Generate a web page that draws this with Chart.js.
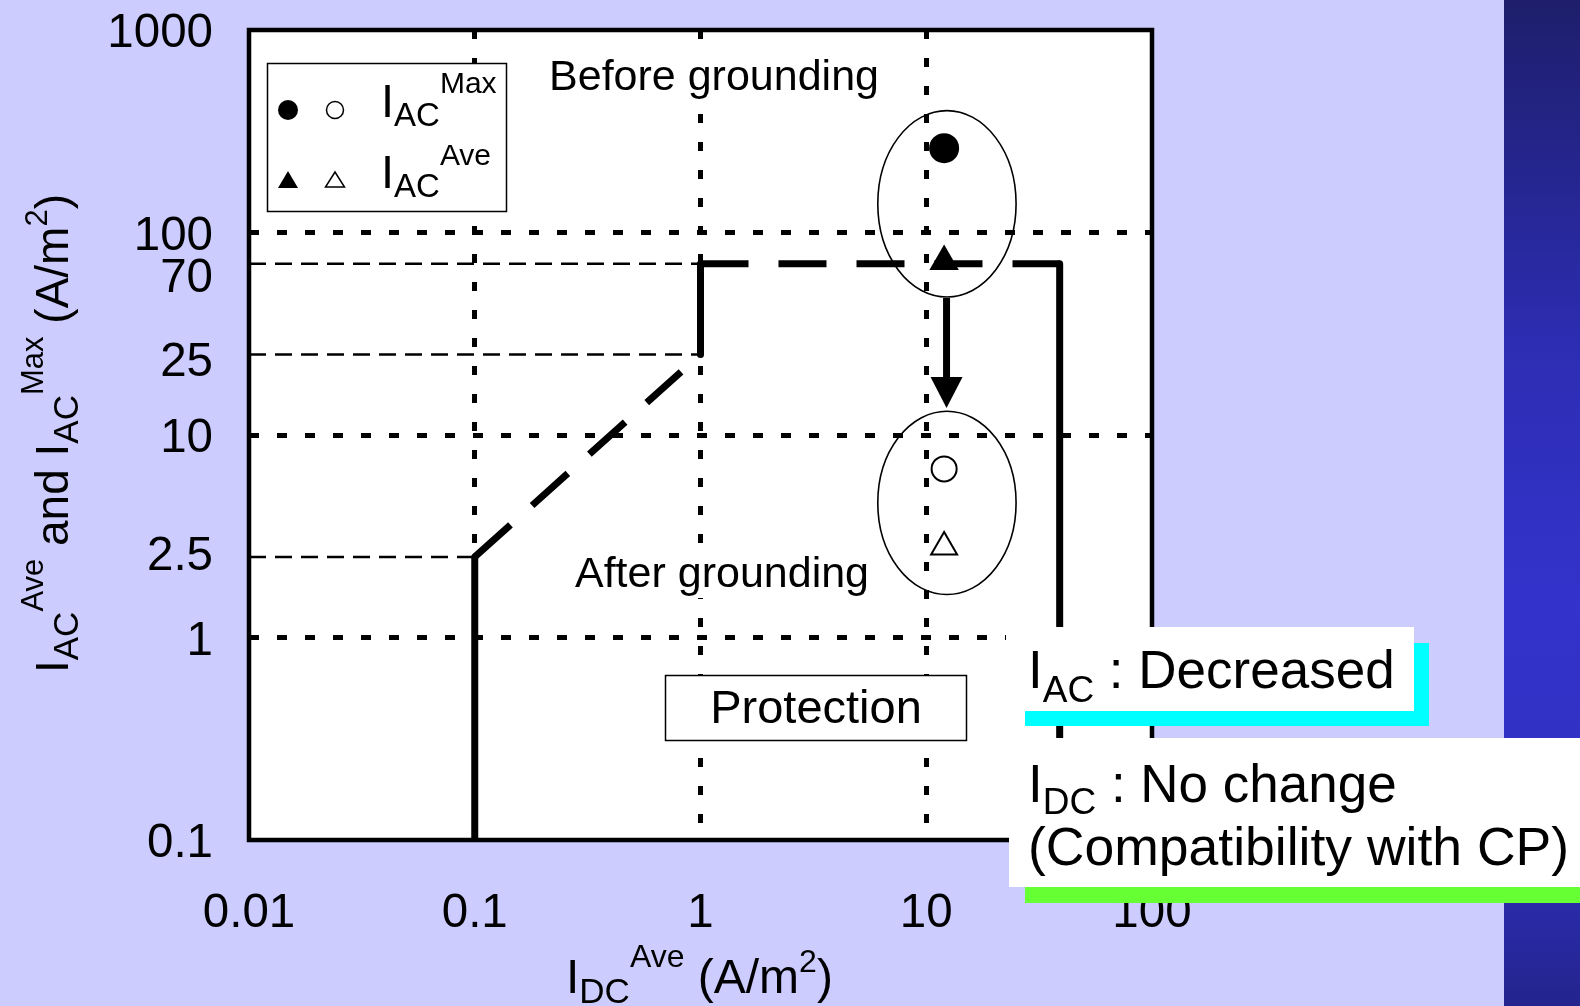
<!DOCTYPE html>
<html><head><meta charset="utf-8">
<script src="https://cdn.jsdelivr.net/npm/chart.js@4.4.0/dist/chart.umd.min.js"></script>
<style>html,body{margin:0;padding:0;background:#ccccff;overflow:hidden}canvas{display:block}</style>
</head><body>
<canvas id="c" width="1580" height="1006"></canvas>
<script>
// ---- data ----
const xTickValues = [0.01, 0.1, 1, 10, 100];
const xTickLabels = ['0.01', '0.1', '1', '10', '100'];
const yTickValues = [0.1, 1, 2.5, 10, 25, 70, 100, 1000];
const yTickLabels = ['0.1', '1', '2.5', '10', '25', '70', '100', '1000'];
const xGridValues = [0.1, 1, 10];
const yGridValues = [1, 10, 100];

const beforeMax = [{x: 12, y: 261}];
const beforeAve = [{x: 12, y: 72}];
const afterMax = [{x: 12, y: 6.8}];
const afterAve = [{x: 12, y: 2.8}];

const refLine70 = [{x: 0.01, y: 70}, {x: 1, y: 70}];
const refLine25 = [{x: 0.01, y: 25}, {x: 1, y: 25}];
const refLine2p5 = [{x: 0.01, y: 2.5}, {x: 0.1, y: 2.5}];

const limitSolidA = [{x: 0.1, y: 0.1}, {x: 0.1, y: 2.5}];
const limitDashA = [{x: 0.1, y: 2.5}, {x: 0.82, y: 20.5}];
const limitSolidB = [{x: 1, y: 25}, {x: 1, y: 70}];
const limitDashB = [{x: 1, y: 70}, {x: 39, y: 70}];
const limitSolidC = [{x: 39, y: 70}, {x: 39, y: 0.1}];

const beforeGroup = {x: [6.1, 25], y: [48, 400]};
const afterGroup = {x: [6.1, 25], y: [1.63, 13.1]};
const arrowPath = [{x: 12.3, y: 47.5}, {x: 12.3, y: 13.6}];

// ---- drawing helpers ----
const F = '"Liberation Sans", Arial, Helvetica, sans-serif';
function rich(ctx, x, y, parts, angle) {
  ctx.save();
  ctx.translate(x, y);
  if (angle) ctx.rotate(angle);
  ctx.textAlign = 'left';
  ctx.textBaseline = 'alphabetic';
  ctx.fillStyle = '#000';
  let cx = 0;
  for (const p of parts) {
    ctx.font = p.s + 'px ' + F;
    ctx.fillText(p.t, cx, p.dy || 0);
    cx += ctx.measureText(p.t).width;
  }
  ctx.restore();
}
function tri(ctx, cx, apexY, baseY, w, fill) {
  ctx.beginPath();
  ctx.moveTo(cx, apexY);
  ctx.lineTo(cx + w / 2, baseY);
  ctx.lineTo(cx - w / 2, baseY);
  ctx.closePath();
  if (fill) { ctx.fillStyle = '#000'; ctx.fill(); }
  else { ctx.fillStyle = '#fff'; ctx.fill(); ctx.lineWidth = 1.5; ctx.strokeStyle = '#000'; ctx.stroke(); }
}
function ellipseFromGroup(ctx, xs, ys, grp) {
  const x1 = xs.getPixelForValue(grp.x[0]), x2 = xs.getPixelForValue(grp.x[1]);
  const y1 = ys.getPixelForValue(grp.y[1]), y2 = ys.getPixelForValue(grp.y[0]);
  ctx.beginPath();
  ctx.ellipse((x1 + x2) / 2, (y1 + y2) / 2, (x2 - x1) / 2, (y2 - y1) / 2, 0, 0, Math.PI * 2);
  ctx.lineWidth = 1.6; ctx.strokeStyle = '#000'; ctx.stroke();
}

const yLabelNudge = {'70': 11, '25': 5, '2.5': -4};

const deco = {
  id: 'deco',
  beforeDraw(chart) {
    const {ctx, chartArea: a} = chart;
    ctx.save();
    ctx.fillStyle = '#ccccff';
    ctx.fillRect(0, 0, chart.width, chart.height);
    const g = ctx.createLinearGradient(0, 0, 0, chart.height);
    g.addColorStop(0, '#1e1e6c');
    g.addColorStop(0.35, '#2d2db4');
    g.addColorStop(0.6, '#3333cc');
    g.addColorStop(0.8, '#3030c2');
    g.addColorStop(1, '#24248e');
    ctx.fillStyle = g;
    ctx.fillRect(1504, 0, chart.width - 1504, chart.height);
    ctx.fillStyle = '#fff';
    ctx.fillRect(a.left, a.top, a.right - a.left, a.bottom - a.top);
    ctx.restore();
  },
  afterDatasetsDraw(chart) {
    const {ctx} = chart;
    const xs = chart.scales.x, ys = chart.scales.y;
    ctx.save();
    ellipseFromGroup(ctx, xs, ys, beforeGroup);
    ellipseFromGroup(ctx, xs, ys, afterGroup);
    const ax = xs.getPixelForValue(arrowPath[0].x);
    const ay1 = ys.getPixelForValue(arrowPath[0].y);
    const ay2 = ys.getPixelForValue(arrowPath[1].y);
    ctx.strokeStyle = '#000'; ctx.lineWidth = 7; ctx.lineCap = 'butt';
    ctx.beginPath(); ctx.moveTo(ax, ay1); ctx.lineTo(ax, ay2 - 28); ctx.stroke();
    ctx.beginPath(); ctx.moveTo(ax, ay2); ctx.lineTo(ax + 16, ay2 - 31); ctx.lineTo(ax - 16, ay2 - 31); ctx.closePath();
    ctx.fillStyle = '#000'; ctx.fill();

    ctx.fillStyle = '#fff';
    ctx.fillRect(546, 54, 338, 46);
    ctx.fillRect(572, 552, 302, 46);
    ctx.fillStyle = '#000';
    ctx.font = '43px ' + F;
    ctx.textAlign = 'center'; ctx.textBaseline = 'alphabetic';
    ctx.fillText('Before grounding', 714, 90);
    ctx.fillText('After grounding', 722, 587);

    ctx.fillStyle = '#fff';
    ctx.fillRect(665, 675, 302, 66);
    ctx.lineWidth = 1.5; ctx.strokeStyle = '#000';
    ctx.strokeRect(665.5, 675.5, 301, 65);
    ctx.fillStyle = '#000';
    ctx.font = '47px ' + F;
    ctx.fillText('Protection', 816, 723);

    ctx.fillStyle = '#fff';
    ctx.fillRect(267, 63, 240, 149);
    ctx.lineWidth = 1.5; ctx.strokeStyle = '#000';
    ctx.strokeRect(267.5, 63.5, 239, 148);
    ctx.beginPath(); ctx.arc(288, 110, 10, 0, Math.PI * 2); ctx.fillStyle = '#000'; ctx.fill();
    ctx.beginPath(); ctx.arc(335, 110, 8.5, 0, Math.PI * 2); ctx.lineWidth = 1.5; ctx.stroke();
    tri(ctx, 288, 171, 188, 20, true);
    tri(ctx, 335, 172, 187, 19, false);
    rich(ctx, 381, 117, [{t: 'I', s: 47}, {t: 'AC', s: 33, dy: 9}, {t: 'Max', s: 30, dy: -24}]);
    rich(ctx, 381, 188, [{t: 'I', s: 47}, {t: 'AC', s: 33, dy: 9}, {t: 'Ave', s: 30, dy: -23}]);
    ctx.restore();
  },
  afterDraw(chart) {
    const {ctx, chartArea: a} = chart;
    const xs = chart.scales.x, ys = chart.scales.y;
    ctx.save();
    ctx.lineWidth = 4.5; ctx.strokeStyle = '#000';
    ctx.strokeRect(a.left, a.top, a.right - a.left, a.bottom - a.top);
    ctx.fillStyle = '#000';
    ctx.font = '47.5px ' + F;
    ctx.textAlign = 'center'; ctx.textBaseline = 'alphabetic';
    xTickValues.forEach((v, i) => ctx.fillText(xTickLabels[i], xs.getPixelForValue(v), 927));
    ctx.textAlign = 'right';
    yTickValues.forEach((v, i) => {
      const lbl = yTickLabels[i];
      ctx.fillText(lbl, 213, ys.getPixelForValue(v) + 17 + (yLabelNudge[lbl] || 0));
    });
    rich(ctx, 566, 993, [
      {t: 'I', s: 48}, {t: 'DC', s: 35, dy: 10}, {t: 'Ave', s: 32, dy: -26},
      {t: ' (A/m', s: 48}, {t: '2', s: 32, dy: -21}, {t: ')', s: 48}
    ]);
    rich(ctx, 68, 673, [
      {t: 'I', s: 46}, {t: 'AC', s: 35, dy: 10}, {t: 'Ave', s: 31, dy: -25},
      {t: ' and ', s: 46},
      {t: 'I', s: 46}, {t: 'AC', s: 35, dy: 10}, {t: 'Max', s: 31, dy: -25},
      {t: ' (A/m', s: 46}, {t: '2', s: 31, dy: -21}, {t: ')', s: 46}
    ], -Math.PI / 2);

    ctx.fillStyle = '#00ffff';
    ctx.fillRect(1025, 643, 404, 83);
    ctx.fillStyle = '#fff';
    ctx.fillRect(1006, 627, 408, 84);
    ctx.fillStyle = '#66ff33';
    ctx.fillRect(1025, 750, chart.width - 1025, 153);
    ctx.fillStyle = '#fff';
    ctx.fillRect(1009, 738, chart.width - 1009, 149);
    rich(ctx, 1028, 688, [{t: 'I', s: 53}, {t: 'AC', s: 37, dy: 14}, {t: ' : Decreased', s: 53}]);
    rich(ctx, 1028, 802, [{t: 'I', s: 53}, {t: 'DC', s: 37, dy: 12}, {t: ' : No change', s: 53}]);
    rich(ctx, 1028, 865, [{t: '(Compatibility with CP)', s: 53.5}]);
    ctx.restore();
  }
};

const lineDs = (data, w, dash, cap) => ({
  type: 'line', data, showLine: true, borderColor: '#000', borderWidth: w,
  borderDash: dash, borderCapStyle: cap || 'butt', pointRadius: 0, fill: false, tension: 0
});

new Chart(document.getElementById('c'), {
  type: 'scatter',
  data: {
    datasets: [
      {data: beforeMax, pointStyle: 'circle', pointRadius: 15, backgroundColor: '#000', borderColor: '#000', borderWidth: 0},
      {data: beforeAve, pointStyle: 'triangle', pointRadius: 17, backgroundColor: '#000', borderColor: '#000', borderWidth: 0},
      {data: afterMax, pointStyle: 'circle', pointRadius: 12.5, backgroundColor: '#fff', borderColor: '#000', borderWidth: 2},
      {data: afterAve, pointStyle: 'triangle', pointRadius: 15, backgroundColor: '#fff', borderColor: '#000', borderWidth: 2},
      lineDs(limitSolidA, 7, [], 'round'),
      lineDs(limitDashA, 7, [48, 29]),
      lineDs(limitSolidB, 7, [], 'round'),
      lineDs(limitDashB, 7, [48, 30]),
      lineDs(limitSolidC, 7, [], 'round'),
      lineDs(refLine70, 2.5, [17, 9]),
      lineDs(refLine25, 2.5, [17, 9]),
      lineDs(refLine2p5, 2.5, [17, 9])
    ]
  },
  options: {
    responsive: false,
    devicePixelRatio: 1,
    animation: false,
    events: [],
    layout: {padding: {left: 249, top: 30, right: 428, bottom: 166}},
    plugins: {legend: {display: false}, tooltip: {enabled: false}},
    scales: {
      x: {
        type: 'logarithmic', min: 0.01, max: 100,
        afterBuildTicks: s => { s.ticks = xGridValues.map(v => ({value: v})); },
        afterFit: s => { s.height = 0; },
        ticks: {display: false},
        grid: {color: '#000', lineWidth: 5, drawTicks: false},
        border: {display: false, dash: [9, 19]}
      },
      y: {
        type: 'logarithmic', min: 0.1, max: 1000,
        afterBuildTicks: s => { s.ticks = yGridValues.map(v => ({value: v})); },
        afterFit: s => { s.width = 0; },
        ticks: {display: false},
        grid: {color: '#000', lineWidth: 5, drawTicks: false},
        border: {display: false, dash: [10, 18]}
      }
    }
  },
  plugins: [deco]
});
</script>
</body></html>
